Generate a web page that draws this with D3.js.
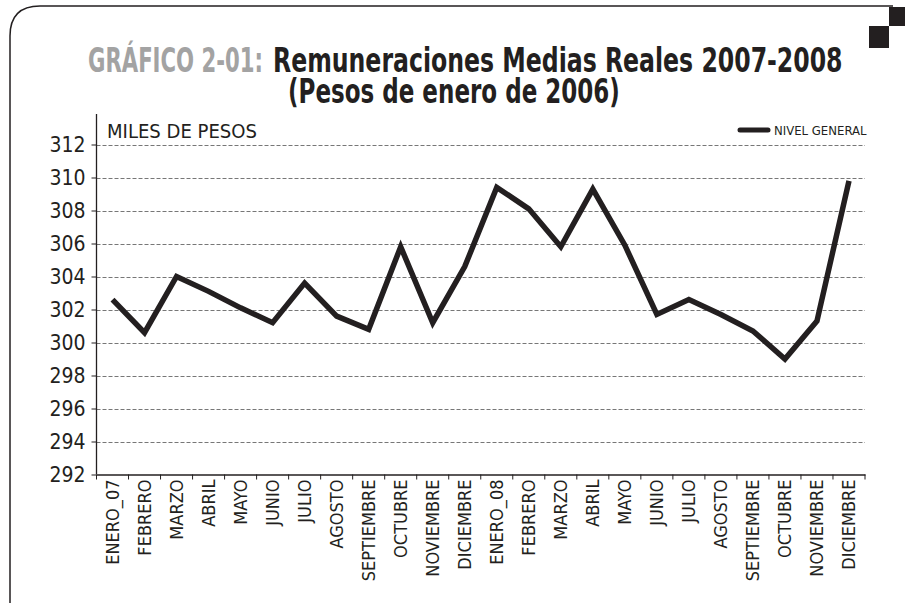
<!DOCTYPE html>
<html>
<head>
<meta charset="utf-8">
<title>Remuneraciones Medias Reales 2007-2008</title>
<script src="https://cdn.jsdelivr.net/npm/d3@7"></script>
<style>
  body { margin: 0; background: #fff; }
  svg text { font-family: "Liberation Sans Narrow", "DejaVu Sans Condensed", "Roboto", sans-serif; font-stretch: condensed; fill: #231f20; }
  .grid line { stroke: #777; stroke-dasharray: 4 2; }
</style>
</head>
<body>
<svg id="chart" width="905" height="603"></svg>
<script>
// data
var months = ["ENERO_07", "FEBRERO", "MARZO", "ABRIL", "MAYO", "JUNIO", "JULIO", "AGOSTO",
  "SEPTIEMBRE", "OCTUBRE", "NOVIEMBRE", "DICIEMBRE",
  "ENERO_08", "FEBRERO", "MARZO", "ABRIL", "MAYO", "JUNIO", "JULIO", "AGOSTO",
  "SEPTIEMBRE", "OCTUBRE", "NOVIEMBRE", "DICIEMBRE"];
var nivelGeneral = [302.6, 300.6, 304.0, 303.1, 302.1, 301.2, 303.6, 301.6, 300.8, 305.8, 301.2, 304.6,
  309.4, 308.1, 305.8, 309.3, 305.9, 301.7, 302.6, 301.7, 300.7, 299.0, 301.3, 309.8];
var yTicks = [292, 294, 296, 298, 300, 302, 304, 306, 308, 310, 312];

var svg = d3.select("#chart");
var x0 = 96.5, x1 = 865, yTop = 144.5, yBot = 474.5;

// frame
svg.append("path")
  .attr("d", "M10,603 L10,36 Q10,6 40,6 L893,6")
  .attr("fill", "none").attr("stroke", "#231f20").attr("stroke-width", 1.5);
svg.append("rect").attr("x", 889).attr("y", 7).attr("width", 16).attr("height", 19).attr("fill", "#231f20");
svg.append("rect").attr("x", 869).attr("y", 26).attr("width", 20).attr("height", 22).attr("fill", "#231f20");

// title: small font stretched with a transform to the reference width
function fitText(str, tx, ty, w, color) {
  var t = svg.append("text").style("font-size", "28px").style("font-weight", "bold")
    .style("fill", color).text(str);
  var sx = w / t.node().getComputedTextLength();
  t.attr("transform", "translate(" + tx + "," + ty + ") scale(" + sx + ",1.2)");
  return t;
}
fitText("GRÁFICO 2-01:", 88, 72, 175, "#a3a3a3");
fitText("Remuneraciones Medias Reales 2007-2008", 273, 72, 570, "#231f20");
fitText("(Pesos de enero de 2006)", 288, 103, 332, "#231f20");

var x = d3.scaleBand().domain(d3.range(months.length)).range([x0, x1]);
var y = d3.scaleLinear().domain([292, 312]).range([yBot, yTop]);

// grid
svg.append("g").attr("class", "grid")
  .selectAll("line").data(yTicks.slice(1)).join("line")
  .attr("x1", x0).attr("x2", x1)
  .attr("y1", d => Math.round(y(d)) + 0.5).attr("y2", d => Math.round(y(d)) + 0.5);

// y axis
var yAxis = svg.append("g").attr("transform", "translate(" + x0 + ",0)")
  .call(d3.axisLeft(y).tickValues(yTicks).tickSize(5).tickPadding(6));
yAxis.select(".domain").remove();
yAxis.selectAll("text").style("font-size", "21px");
yAxis.selectAll("line").attr("stroke", "#231f20");
svg.append("line").attr("x1", x0).attr("x2", x0).attr("y1", 114).attr("y2", yBot)
  .attr("stroke", "#231f20").attr("stroke-width", 1.3);

// x axis
var xAxis = svg.append("g").attr("transform", "translate(0," + yBot + ")")
  .call(d3.axisBottom(x).tickFormat(i => months[i]).tickSize(0).tickPadding(0));
xAxis.select(".domain").attr("stroke", "#231f20").attr("stroke-width", 1.3);
xAxis.selectAll(".tick text")
  .attr("transform", "rotate(-90)")
  .attr("x", -5).attr("y", 0).attr("dy", "0.35em")
  .style("text-anchor", "end").style("font-size", "18px");
svg.append("g").selectAll("line").data(d3.range(months.length + 1)).join("line")
  .attr("x1", i => x0 + i * x.bandwidth()).attr("x2", i => x0 + i * x.bandwidth())
  .attr("y1", yBot).attr("y2", yBot + 5)
  .attr("stroke", "#231f20");

// line
var line = d3.line().x((d, i) => x(i) + x.bandwidth() / 2).y(d => y(d));
svg.append("path").datum(nivelGeneral)
  .attr("d", line).attr("fill", "none")
  .attr("stroke", "#231f20").attr("stroke-width", 5.5).attr("stroke-linejoin", "miter");

// labels
svg.append("text").attr("x", 107).attr("y", 138).style("font-size", "19px")
  .attr("textLength", 150).attr("lengthAdjust", "spacingAndGlyphs")
  .text("MILES DE PESOS");
svg.append("line").attr("x1", 740).attr("x2", 768).attr("y1", 130).attr("y2", 130)
  .attr("stroke", "#231f20").attr("stroke-width", 5).attr("stroke-linecap", "round");
svg.append("text").attr("x", 774).attr("y", 135).style("font-size", "13px").text("NIVEL GENERAL");
</script>
</body>
</html>
